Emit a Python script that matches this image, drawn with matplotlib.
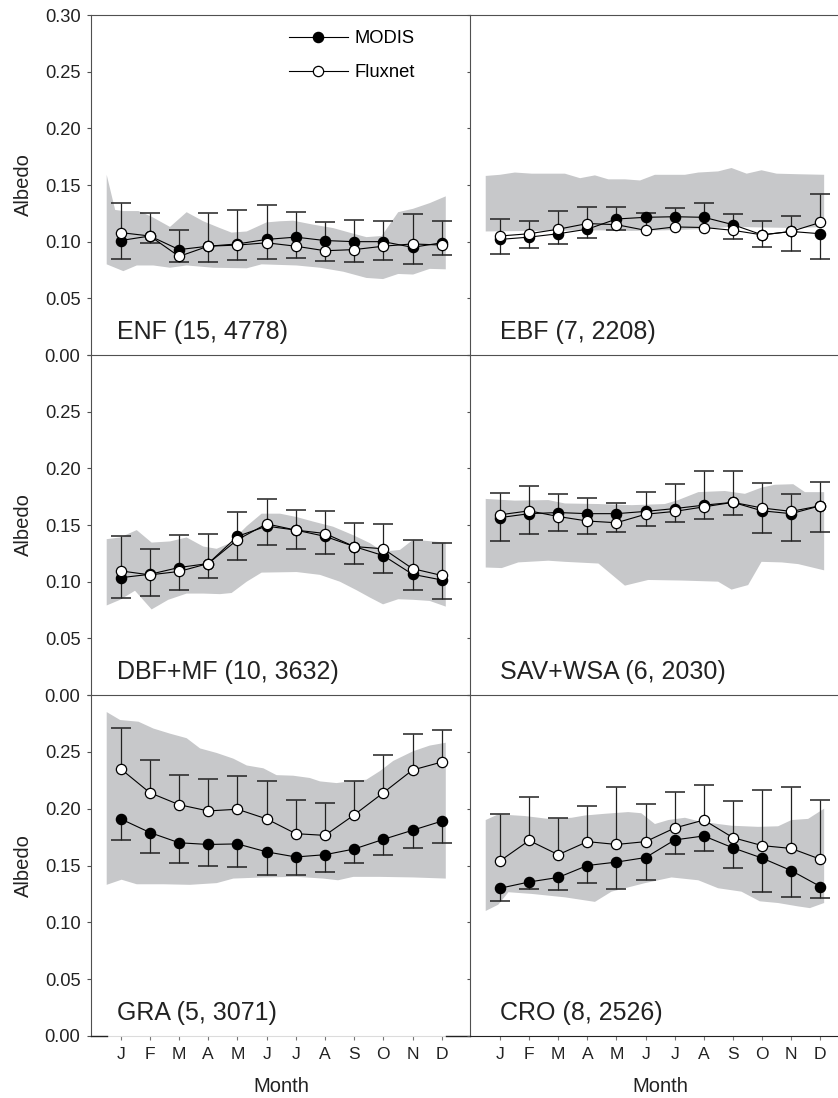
import numpy as np
import matplotlib
matplotlib.use("Agg")
import matplotlib.pyplot as plt

plt.rcParams['font.family'] = ['Liberation Sans', 'DejaVu Sans']

months = np.arange(1, 13)
month_labels = ['J', 'F', 'M', 'A', 'M', 'J', 'J', 'A', 'S', 'O', 'N', 'D']

# ---------------- ENF ----------------
enf_modis = [0.101, 0.105, 0.093, 0.096, 0.098, 0.102, 0.104, 0.101, 0.100, 0.100, 0.095, 0.099]
enf_flux = [0.108, 0.105, 0.087, 0.096, 0.097, 0.099, 0.096, 0.092, 0.093, 0.096, 0.098, 0.097]
enf_flux_hi = [0.134, 0.125, 0.110, 0.125, 0.128, 0.132, 0.126, 0.117, 0.119, 0.118, 0.124, 0.118]
enf_modis_lo = [0.085, 0.099, 0.082, 0.082, 0.084, 0.085, 0.086, 0.083, 0.082, 0.084, 0.080, 0.088]
enf_band_hi_x = [0.52, 0.81, 1.09, 1.61, 2.06, 2.69, 3.26, 3.83, 4.40, 4.80, 5.32, 6.0, 6.46, 6.91,
                 7.60, 8.28, 8.98, 9.42, 9.94, 10.16, 10.51, 11.02, 11.59, 12.14]
enf_band_hi = [0.159, 0.128, 0.127, 0.127, 0.122, 0.113, 0.126, 0.118, 0.112, 0.108, 0.109, 0.117,
               0.118, 0.1185, 0.115, 0.112, 0.107, 0.104, 0.105, 0.113, 0.126, 0.129, 0.134, 0.140]
enf_band_lo_x = [0.52, 1.09, 1.55, 2.12, 2.69, 3.26, 4.17, 5.32, 5.83, 7.03, 7.83, 8.63, 9.42, 9.99,
                 10.51, 11.02, 11.59, 12.14]
enf_band_lo = [0.080, 0.074, 0.079, 0.079, 0.077, 0.079, 0.077, 0.0765, 0.080, 0.079, 0.077, 0.0735,
               0.068, 0.067, 0.0715, 0.071, 0.076, 0.0756]

# ---------------- EBF ----------------
ebf_modis = [0.102, 0.104, 0.107, 0.111, 0.120, 0.1215, 0.122, 0.1215, 0.115, 0.106, 0.109, 0.107]
ebf_flux = [0.105, 0.107, 0.111, 0.116, 0.115, 0.110, 0.113, 0.1125, 0.110, 0.106, 0.109, 0.117]
ebf_flux_hi = [0.120, 0.118, 0.127, 0.131, 0.131, 0.125, 0.130, 0.134, 0.124, 0.1185, 0.1225, 0.142]
ebf_modis_lo = [0.089, 0.094, 0.098, 0.1035, 0.110, 0.1215, 0.122, 0.1215, 0.102, 0.095, 0.092, 0.085]
ebf_band_hi_x = [0.51, 1.0, 1.51, 2.09, 3.23, 3.75, 4.26, 4.72, 5.29, 5.81, 6.32, 7.35, 7.81, 8.49,
                 8.95, 9.47, 9.98, 10.50, 11.24, 12.13]
ebf_band_hi = [0.158, 0.159, 0.161, 0.160, 0.160, 0.156, 0.1585, 0.155, 0.155, 0.154, 0.159, 0.159,
               0.161, 0.162, 0.165, 0.160, 0.163, 0.160, 0.1595, 0.159]
ebf_band_lo_x = [0.51, 2.09, 4.38, 5.52, 6.66, 7.81, 8.95, 10.1, 11.24, 12.13]
ebf_band_lo = [0.109, 0.1095, 0.110, 0.1095, 0.110, 0.111, 0.113, 0.1125, 0.112, 0.113]

# ---------------- DBF+MF ----------------
dbf_modis = [0.1035, 0.1065, 0.1125, 0.116, 0.140, 0.149, 0.1455, 0.140, 0.131, 0.123, 0.1065, 0.1015]
dbf_flux = [0.1095, 0.106, 0.109, 0.116, 0.137, 0.151, 0.1455, 0.1425, 0.131, 0.129, 0.1115, 0.1055]
dbf_flux_hi = [0.140, 0.1285, 0.141, 0.142, 0.1615, 0.173, 0.163, 0.162, 0.1515, 0.1505, 0.137, 0.1345]
dbf_modis_lo = [0.0855, 0.087, 0.093, 0.103, 0.119, 0.132, 0.129, 0.124, 0.116, 0.108, 0.0925, 0.085]
dbf_band_hi_x = [0.52, 0.98, 1.55, 2.06, 2.69, 3.26, 3.83, 4.29, 4.74, 5.32, 5.83, 6.46, 7.03, 7.60,
                 8.28, 8.97, 9.54, 9.99, 10.57, 11.02, 12.14]
dbf_band_hi = [0.1375, 0.139, 0.1455, 0.1345, 0.1355, 0.139, 0.131, 0.129, 0.134, 0.149, 0.160, 0.160,
               0.157, 0.153, 0.1485, 0.141, 0.134, 0.1265, 0.128, 0.137, 0.1345]
dbf_band_lo_x = [0.52, 0.98, 1.49, 2.06, 2.63, 3.26, 3.83, 4.40, 4.80, 5.32, 5.83, 7.03, 7.83, 8.51,
                 9.08, 9.54, 9.99, 10.51, 11.02, 11.59, 12.14]
dbf_band_lo = [0.079, 0.084, 0.092, 0.0755, 0.084, 0.0895, 0.0895, 0.089, 0.090, 0.100, 0.108, 0.1085,
               0.106, 0.100, 0.0925, 0.086, 0.080, 0.0845, 0.084, 0.083, 0.078]

# ---------------- SAV+WSA ----------------
sav_modis = [0.1565, 0.160, 0.161, 0.160, 0.160, 0.162, 0.1645, 0.1675, 0.170, 0.1625, 0.160, 0.167]
sav_flux = [0.159, 0.1625, 0.1575, 0.1535, 0.152, 0.1595, 0.162, 0.166, 0.170, 0.165, 0.162, 0.167]
sav_flux_hi = [0.1785, 0.184, 0.177, 0.174, 0.1695, 0.1795, 0.1865, 0.198, 0.198, 0.187, 0.1775, 0.188]
sav_modis_lo = [0.136, 0.142, 0.145, 0.1425, 0.1435, 0.149, 0.1525, 0.155, 0.159, 0.143, 0.136, 0.144]
sav_band_hi_x = [0.51, 1.51, 2.66, 3.23, 4.38, 5.52, 6.66, 7.12, 7.81, 8.72, 9.41, 9.98, 10.44,
                 11.07, 11.47, 12.13]
sav_band_hi = [0.173, 0.1715, 0.172, 0.169, 0.1685, 0.1675, 0.1685, 0.172, 0.179, 0.180, 0.1775,
               0.183, 0.1855, 0.186, 0.179, 0.179]
sav_band_lo_x = [0.51, 1.06, 1.63, 2.66, 3.23, 4.38, 5.29, 6.09, 7.24, 8.49, 8.95, 9.52, 9.98,
                 10.67, 11.24, 12.13]
sav_band_lo = [0.1125, 0.112, 0.117, 0.1185, 0.1175, 0.116, 0.0965, 0.1015, 0.101, 0.100, 0.093,
               0.097, 0.1175, 0.117, 0.1155, 0.110]

# ---------------- GRA ----------------
gra_modis = [0.191, 0.179, 0.170, 0.1685, 0.169, 0.162, 0.1575, 0.1595, 0.1645, 0.173, 0.181, 0.189]
gra_flux = [0.235, 0.214, 0.2035, 0.198, 0.1995, 0.191, 0.178, 0.1765, 0.1945, 0.214, 0.234, 0.241]
gra_flux_hi = [0.271, 0.243, 0.230, 0.226, 0.229, 0.2245, 0.2075, 0.205, 0.224, 0.247, 0.266, 0.2695]
gra_modis_lo = [0.1725, 0.161, 0.1525, 0.150, 0.1485, 0.142, 0.142, 0.1445, 0.1525, 0.1595, 0.165, 0.1695]
gra_band_hi_x = [0.52, 0.98, 1.61, 2.12, 2.69, 3.26, 3.72, 4.29, 4.86, 5.32, 5.89, 6.34, 6.91, 7.48,
                 7.83, 8.40, 8.85, 9.42, 9.88, 10.34, 11.02, 11.59, 12.14]
gra_band_hi = [0.285, 0.278, 0.2765, 0.2705, 0.266, 0.262, 0.253, 0.249, 0.244, 0.238, 0.2355, 0.2295,
               0.229, 0.227, 0.224, 0.2225, 0.224, 0.2255, 0.233, 0.242, 0.2505, 0.2555, 0.258]
gra_band_lo_x = [0.52, 1.03, 1.55, 2.46, 3.37, 4.29, 4.86, 5.89, 7.03, 7.94, 8.45, 8.97, 9.88,
                 11.02, 12.14]
gra_band_lo = [0.133, 0.1375, 0.1335, 0.1335, 0.133, 0.1345, 0.1385, 0.1395, 0.140, 0.1385, 0.137,
               0.140, 0.140, 0.1395, 0.1385]

# ---------------- CRO ----------------
cro_modis = [0.130, 0.1355, 0.1395, 0.150, 0.153, 0.157, 0.1725, 0.176, 0.1655, 0.1565, 0.1455, 0.1315]
cro_flux = [0.154, 0.172, 0.1595, 0.171, 0.1685, 0.171, 0.183, 0.190, 0.1745, 0.1675, 0.165, 0.1555]
cro_flux_hi = [0.195, 0.2105, 0.192, 0.202, 0.219, 0.2045, 0.2145, 0.221, 0.207, 0.2165, 0.219, 0.208]
cro_modis_lo = [0.119, 0.1295, 0.1285, 0.135, 0.1295, 0.137, 0.160, 0.163, 0.148, 0.1265, 0.122, 0.121]
cro_band_hi_x = [0.51, 0.94, 1.86, 2.66, 3.46, 3.92, 4.60, 5.40, 5.85, 6.32, 6.78, 7.35, 7.81, 8.49,
                 8.95, 9.86, 10.55, 11.01, 11.58, 12.13]
cro_band_hi = [0.190, 0.195, 0.1935, 0.191, 0.192, 0.194, 0.1955, 0.197, 0.196, 0.1865, 0.190, 0.192,
               0.189, 0.1865, 0.185, 0.184, 0.1845, 0.190, 0.191, 0.200]
cro_band_lo_x = [0.51, 0.94, 1.29, 2.09, 3.23, 4.26, 4.83, 5.98, 6.89, 7.81, 8.49, 9.29, 9.92,
                 10.55, 11.24, 11.64, 12.13]
cro_band_lo = [0.110, 0.1155, 0.1265, 0.125, 0.122, 0.118, 0.127, 0.1345, 0.1395, 0.137, 0.130,
               0.127, 0.1185, 0.117, 0.114, 0.1125, 0.117]

panels = [
    ("ENF (15, 4778)", enf_modis, enf_flux, enf_flux_hi, enf_modis_lo,
     enf_band_hi_x, enf_band_hi, enf_band_lo_x, enf_band_lo),
    ("EBF (7, 2208)", ebf_modis, ebf_flux, ebf_flux_hi, ebf_modis_lo,
     ebf_band_hi_x, ebf_band_hi, ebf_band_lo_x, ebf_band_lo),
    ("DBF+MF (10, 3632)", dbf_modis, dbf_flux, dbf_flux_hi, dbf_modis_lo,
     dbf_band_hi_x, dbf_band_hi, dbf_band_lo_x, dbf_band_lo),
    ("SAV+WSA (6, 2030)", sav_modis, sav_flux, sav_flux_hi, sav_modis_lo,
     sav_band_hi_x, sav_band_hi, sav_band_lo_x, sav_band_lo),
    ("GRA (5, 3071)", gra_modis, gra_flux, gra_flux_hi, gra_modis_lo,
     gra_band_hi_x, gra_band_hi, gra_band_lo_x, gra_band_lo),
    ("CRO (8, 2526)", cro_modis, cro_flux, cro_flux_hi, cro_modis_lo,
     cro_band_hi_x, cro_band_hi, cro_band_lo_x, cro_band_lo),
]

yticks = [0.0, 0.05, 0.10, 0.15, 0.20, 0.25, 0.30]

W, H = 838, 1098
fig = plt.figure(figsize=(W / 100, H / 100), dpi=100)

col_px = [(91, 470, (-0.018, 12.97)), (470, 839, (-0.03, 12.64))]
row_px = [(15, 355), (355, 695), (695, 1036)]

SPINE = '#505050'
TXT = '#222222'
BAND = '#c7c8ca'


def draw_err(ax, x, y, yend, z):
    x = np.asarray(x, float)
    y = np.asarray(y, float)
    yend = np.asarray(yend, float)
    mask = np.abs(yend - y) > 1e-6
    ax.vlines(x[mask], y[mask], yend[mask], colors='#222222', linewidth=0.9, zorder=z)
    ax.plot(x[mask], yend[mask], ls='none', marker='_', ms=14.4, mew=1.1,
            color='#222222', zorder=z)


for i, (label, modis, flux, flux_hi, modis_lo, bhx, bh, blx, bl) in enumerate(panels):
    r, c = divmod(i, 2)
    x0, x1, xl = col_px[c]
    y0, y1 = row_px[r]
    ax = fig.add_axes([x0 / W, 1 - y1 / H, (x1 - x0) / W, (y1 - y0) / H])
    ax.set_facecolor('none')
    ax.set_xlim(*xl)
    ax.set_ylim(0, 0.30)

    # band
    ax.fill(np.r_[bhx, blx[::-1]], np.r_[bh, bl[::-1]], color=BAND, lw=0, zorder=1)

    # error bars
    draw_err(ax, months, modis, modis_lo, 2)
    draw_err(ax, months, flux, flux_hi, 2)

    ax.plot(months, modis, '-o', color='black', lw=0.8, ms=7.4, mew=0.9,
            mfc='black', mec='black', zorder=3, label='MODIS')
    ax.plot(months, flux, '-o', color='black', lw=0.8, ms=7.4, mew=0.9,
            mfc='white', mec='black', zorder=4, label='Fluxnet')

    ax.text(0.069 if c == 0 else 0.08, 0.047, label, transform=ax.transAxes,
            fontsize=18, color=TXT, va='baseline', ha='left')

    # spines
    ax.spines['right'].set_visible(False)
    ax.spines['top'].set_visible(r == 0)
    for s in ('left', 'bottom', 'top'):
        ax.spines[s].set_color(SPINE)
        ax.spines[s].set_linewidth(0.8)

    ax.set_yticks(yticks)
    if c == 0:
        if r == 0:
            ax.set_yticklabels(['%.2f' % v for v in yticks])
        else:
            ax.set_yticklabels(['%.2f' % v for v in yticks[:-1]] + [''])
        ax.tick_params(axis='y', direction='out', length=2.6, width=0.8, color=SPINE,
                       labelsize=13.2, labelcolor=TXT, pad=5)
    else:
        ax.tick_params(axis='y', direction='out', length=2.0, width=0.8, color=SPINE,
                       labelleft=False)

    if r == 2:
        ax.set_xticks(months)
        ax.set_xticklabels(month_labels)
        ax.tick_params(axis='x', direction='out', length=3.2, width=0.8, color='#777777',
                       labelsize=12.6, labelcolor=TXT, pad=5)
        ax.text(6.5, -0.164, 'Month', transform=ax.get_xaxis_transform(),
                fontsize=14.5, color=TXT, ha='center', va='baseline')
        if c == 0:
            ax.spines['bottom'].set_color('#dcdcdc')
            ax.plot([0, 0.042], [0, 0], transform=ax.transAxes, color='#222222',
                    lw=1.0, clip_on=False, zorder=5)
            ax.plot([0.937, 1.0], [0, 0], transform=ax.transAxes, color='#222222',
                    lw=1.0, clip_on=False, zorder=5)
        else:
            ax.spines['bottom'].set_color('#222222')
    else:
        ax.set_xticks(months)
        ax.tick_params(axis='x', bottom=False, labelbottom=False)

    if i == 0:
        ax.legend(loc='upper left', bbox_to_anchor=(289 / W, 1 - 30 / H),
                  bbox_transform=fig.transFigure, frameon=False, fontsize=13.2,
                  handlelength=3.2, handletextpad=0.38, labelspacing=0.95,
                  borderpad=0, borderaxespad=0)

for (y0, y1) in row_px:
    fig.text(23 / W, 1 - (y0 + y1) / 2 / H, 'Albedo', rotation=90, fontsize=14.5,
             color=TXT, ha='center', va='center')

fig.savefig('out.png', dpi=100)
